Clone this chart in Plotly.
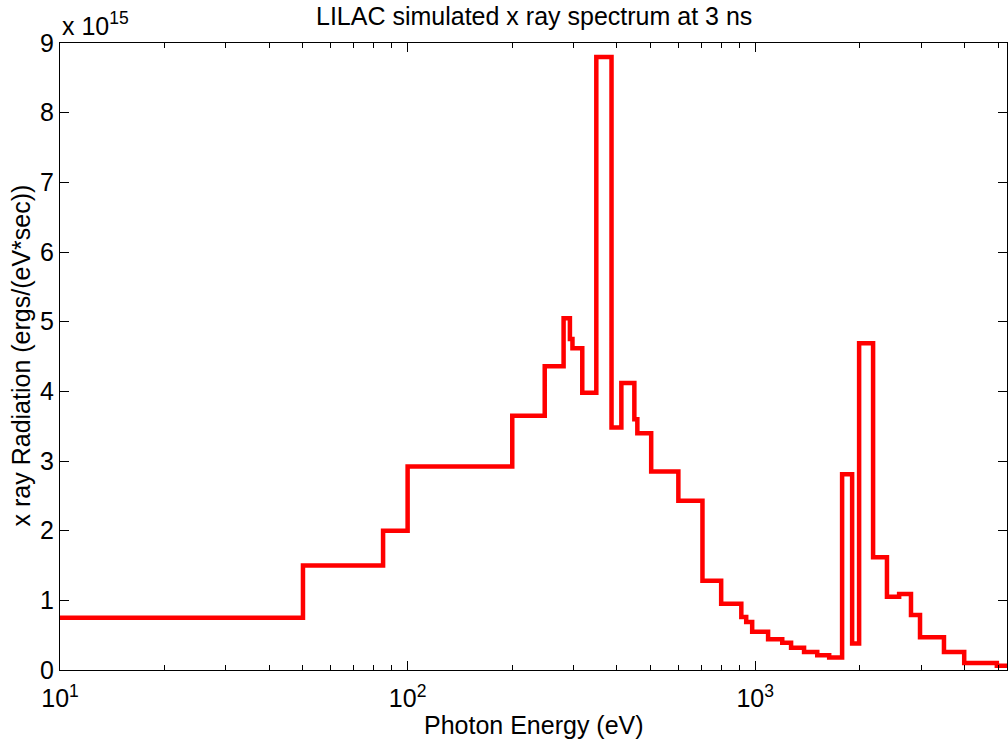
import plotly.graph_objects as go
import numpy as np

# Bin left edges (eV) and spectrum values (units of 1e15 ergs/(eV*sec))
energy_edges = [10, 50, 85, 100, 200, 248, 281, 293, 298, 318, 349, 386, 412, 449, 458,
                502, 601, 705, 798, 912, 942, 980, 1089, 1196, 1268, 1382, 1508, 1632,
                1778, 1900, 1990, 2183, 2393, 2594, 2806, 2979, 3491, 3992, 4955]
radiation = [0.75, 1.5, 2.0, 2.92, 3.65, 4.36, 5.05, 4.75, 4.62, 3.98, 8.8, 3.48, 4.12, 3.6, 3.40,
             2.85, 2.43, 1.28, 0.95, 0.76, 0.69, 0.55, 0.44, 0.39, 0.32, 0.26, 0.21, 0.18,
             2.81, 0.38, 4.69, 1.62, 1.05, 1.09, 0.79, 0.47, 0.26, 0.10, 0.06]
energy_end = 5300

x_tick_vals = [10, 100, 1000]
x_tick_text = ["10<sup>1</sup>", "10<sup>2</sup>", "10<sup>3</sup>"]
y_tick_vals = [0, 1, 2, 3, 4, 5, 6, 7, 8, 9]

x = list(energy_edges) + [energy_end]
y = list(radiation) + [radiation[-1]]

minor_vals = [m * d for d in (10, 100, 1000) for m in range(2, 10)]

fig = go.Figure()
fig.add_trace(go.Scatter(x=x, y=y, mode="lines", line=dict(color="#ff0000", width=4.5, shape="hv"),
                         showlegend=False, hoverinfo="skip"))

font = "Liberation Sans, Arial, sans-serif"
fig.update_layout(
    width=1008, height=744,
    margin=dict(l=60, r=1, t=43, b=74),
    paper_bgcolor="white", plot_bgcolor="white",
    font=dict(family=font, size=25, color="black"),
    xaxis=dict(type="log", range=[1, np.log10(energy_end)],
               tickmode="array", tickvals=x_tick_vals, ticktext=x_tick_text,
               ticks="inside", ticklen=9, tickwidth=1, tickcolor="black",
               minor=dict(tickmode="array", tickvals=minor_vals, ticks="inside", ticklen=5,
                          tickwidth=1, tickcolor="black", showgrid=False),
               showline=True, linecolor="black", linewidth=1, mirror="ticks",
               showgrid=False, zeroline=False, tickfont=dict(size=25), ticklabelstandoff=6),
    yaxis=dict(range=[0, 9], tickmode="array", tickvals=y_tick_vals,
               ticks="inside", ticklen=9, tickwidth=1, tickcolor="black",
               showline=True, linecolor="black", linewidth=1, mirror="ticks",
               showgrid=False, zeroline=False, tickfont=dict(size=25)),
    annotations=[
        dict(text="LILAC simulated x ray spectrum at 3 ns", x=0.5, y=1.043, xref="paper", yref="paper",
             xanchor="center", yanchor="middle", showarrow=False, font=dict(size=25)),
        dict(text="x 10<sup>15</sup>", x=0.0, y=1.03, xref="paper", yref="paper",
             xanchor="left", yanchor="middle", showarrow=False, font=dict(size=25)),
        dict(text="Photon Energy (eV)", x=0.5, y=-0.087, xref="paper", yref="paper",
             xanchor="center", yanchor="middle", showarrow=False, font=dict(size=25)),
        dict(text="x ray Radiation (ergs/(eV*sec))", x=-0.041, y=0.502, xref="paper", yref="paper",
             xanchor="center", yanchor="middle", showarrow=False, textangle=-90, font=dict(size=25)),
    ],
)

fig.write_html("out.html")
